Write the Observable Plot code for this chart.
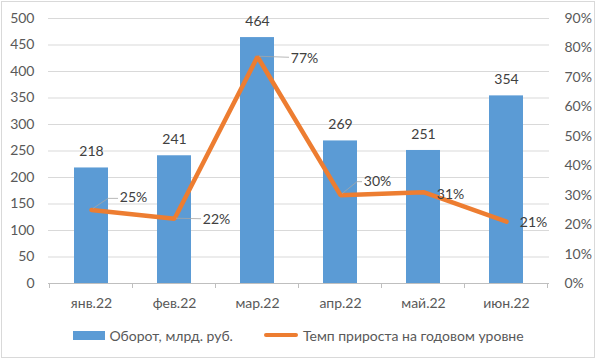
<!DOCTYPE html>
<html><head><meta charset="utf-8">
<script src="https://cdn.jsdelivr.net/npm/d3@7"></script>
<script src="https://cdn.jsdelivr.net/npm/@observablehq/plot@0.6"></script>
<style>
body{margin:0;background:#fff;font-family:Lato,"Open Sans",sans-serif;}
#wrap{position:relative;width:601px;height:360px;overflow:hidden;background:#fff;}
#chart{position:absolute;left:0;top:0;}
#frame{position:absolute;left:1px;top:1px;width:594px;height:357px;box-sizing:border-box;border:1px solid #d9d9d9;pointer-events:none;}
#legend{position:absolute;left:0;top:326px;width:597px;height:18px;display:flex;justify-content:center;align-items:center;gap:31px;font-size:14px;color:#595959;}
.item{display:flex;align-items:center;}
.sw-bar{width:32px;height:9px;background:#5B9BD5;margin-right:4px;}
.sw-line{width:34px;height:4px;background:#ED7D31;border-radius:2px;margin-right:5px;}
</style>
</head><body>
<div id="wrap"><div id="chart"></div><div id="legend"></div><div id="frame"></div></div>
<script>
const months = ["янв.22","фев.22","мар.22","апр.22","май.22","июн.22"];
const turnover = [218,241,464,269,251,354];
const growth = [25,22,77,30,31,21];
const leftTicks = [0,50,100,150,200,250,300,350,400,450,500];
const rightTicks = [0,10,20,30,40,50,60,70,80,90];
const seriesNames = ["Оборот, млрд. руб.","Темп прироста на годовом уровне"];

// label placement (pixels) for the growth labels, Excel-like
const labelOffsets = [[42,-12],[42,1],[47,2],[37,-14],[27,2],[27,1]];
const leaderKind = ["elbow","flat","flat","elbow","none","none"];

const K = 500/90; // map % onto left axis units
const data = months.map((m,i)=>({m, v: turnover[i], g: growth[i], gy: growth[i]*K}));

const H = 320, plotTop = 18, bottomY = 283;
const textColor = "#595959";

function extras(index, scales, values, dims) {
  const x = scales.x, y = scales.y;
  const g = d3.create("svg:g");
  const step = x.step(), bw = x.bandwidth();
  const y0 = y(0);
  const bounds = months.map(m => x(m) + bw/2 - step/2).concat([x(months[months.length-1]) + bw/2 + step/2]);
  bounds.forEach(b => g.append("line").attr("x1", b).attr("x2", b).attr("y1", y0).attr("y2", y0 + 5)
    .attr("stroke", "#bfbfbf"));
  data.forEach((d,i) => {
    const px = x(d.m) + bw/2, py = y(d.gy);
    const [dx, dy] = labelOffsets[i];
    const lx = px + dx - 13;
    if (leaderKind[i] === "flat") {
      g.append("line").attr("x1", px + 2).attr("x2", lx - 2).attr("y1", py).attr("y2", py + dy*0.5)
        .attr("stroke", "#a6a6a6").attr("stroke-width", 0.8);
    } else if (leaderKind[i] === "elbow") {
      g.append("polyline").attr("points", `${px+2},${py-1} ${px+17},${py+dy+1} ${lx-2},${py+dy+1}`)
        .attr("fill","none").attr("stroke", "#a6a6a6").attr("stroke-width", 0.8);
    }
  });
  return g.node();
}

const plot = Plot.plot({
  width: 601, height: H,
  marginLeft: 48, marginRight: 52, marginTop: plotTop, marginBottom: H - bottomY,
  style: {fontFamily: 'Lato, "Open Sans", sans-serif', fontSize: "14px", color: textColor, background: "transparent"},
  x: {domain: months, paddingInner: 0.59, paddingOuter: 0.295, label: null},
  y: {domain: [0, 500], label: null},
  marks: [
    Plot.gridY(leftTicks, {stroke: "#d9d9d9", strokeOpacity: 1}),
    Plot.barY(data, {x: "m", y: "v", fill: "#5B9BD5"}),
    Plot.ruleY([0], {stroke: "#bfbfbf"}),
    Plot.axisY(leftTicks, {anchor: "left", tickSize: 0, tickPadding: 14, fontSize: 14, label: null}),
    Plot.axisY(rightTicks.map(t => t*K), {anchor: "right", tickSize: 0, tickPadding: 15, fontSize: 14, label: null,
      tickFormat: d => Math.round(d/K) + "%"}),
    Plot.axisX({tickSize: 0, tickPadding: 15, fontSize: 14, label: null}),
    Plot.lineY(data, {x: "m", y: "gy", stroke: "#ED7D31", strokeWidth: 4.5, strokeLinejoin: "miter"}),
    Plot.text(data, {x: "m", y: "v", text: d => String(d.v), dy: -16, fontSize: 14, fill: "#404040"}),
    extras,
    ...data.map((d,i) => Plot.text([d], {x: "m", y: "gy", text: d => d.g + "%", dx: labelOffsets[i][0], dy: labelOffsets[i][1], fontSize: 14, fill: "#404040"}))
  ]
});
document.getElementById("chart").appendChild(plot);

const legend = document.getElementById("legend");
legend.innerHTML = `<div class="item"><div class="sw-bar"></div><span>${seriesNames[0]}</span></div>` +
  `<div class="item"><div class="sw-line"></div><span>${seriesNames[1]}</span></div>`;
</script>
</body></html>
